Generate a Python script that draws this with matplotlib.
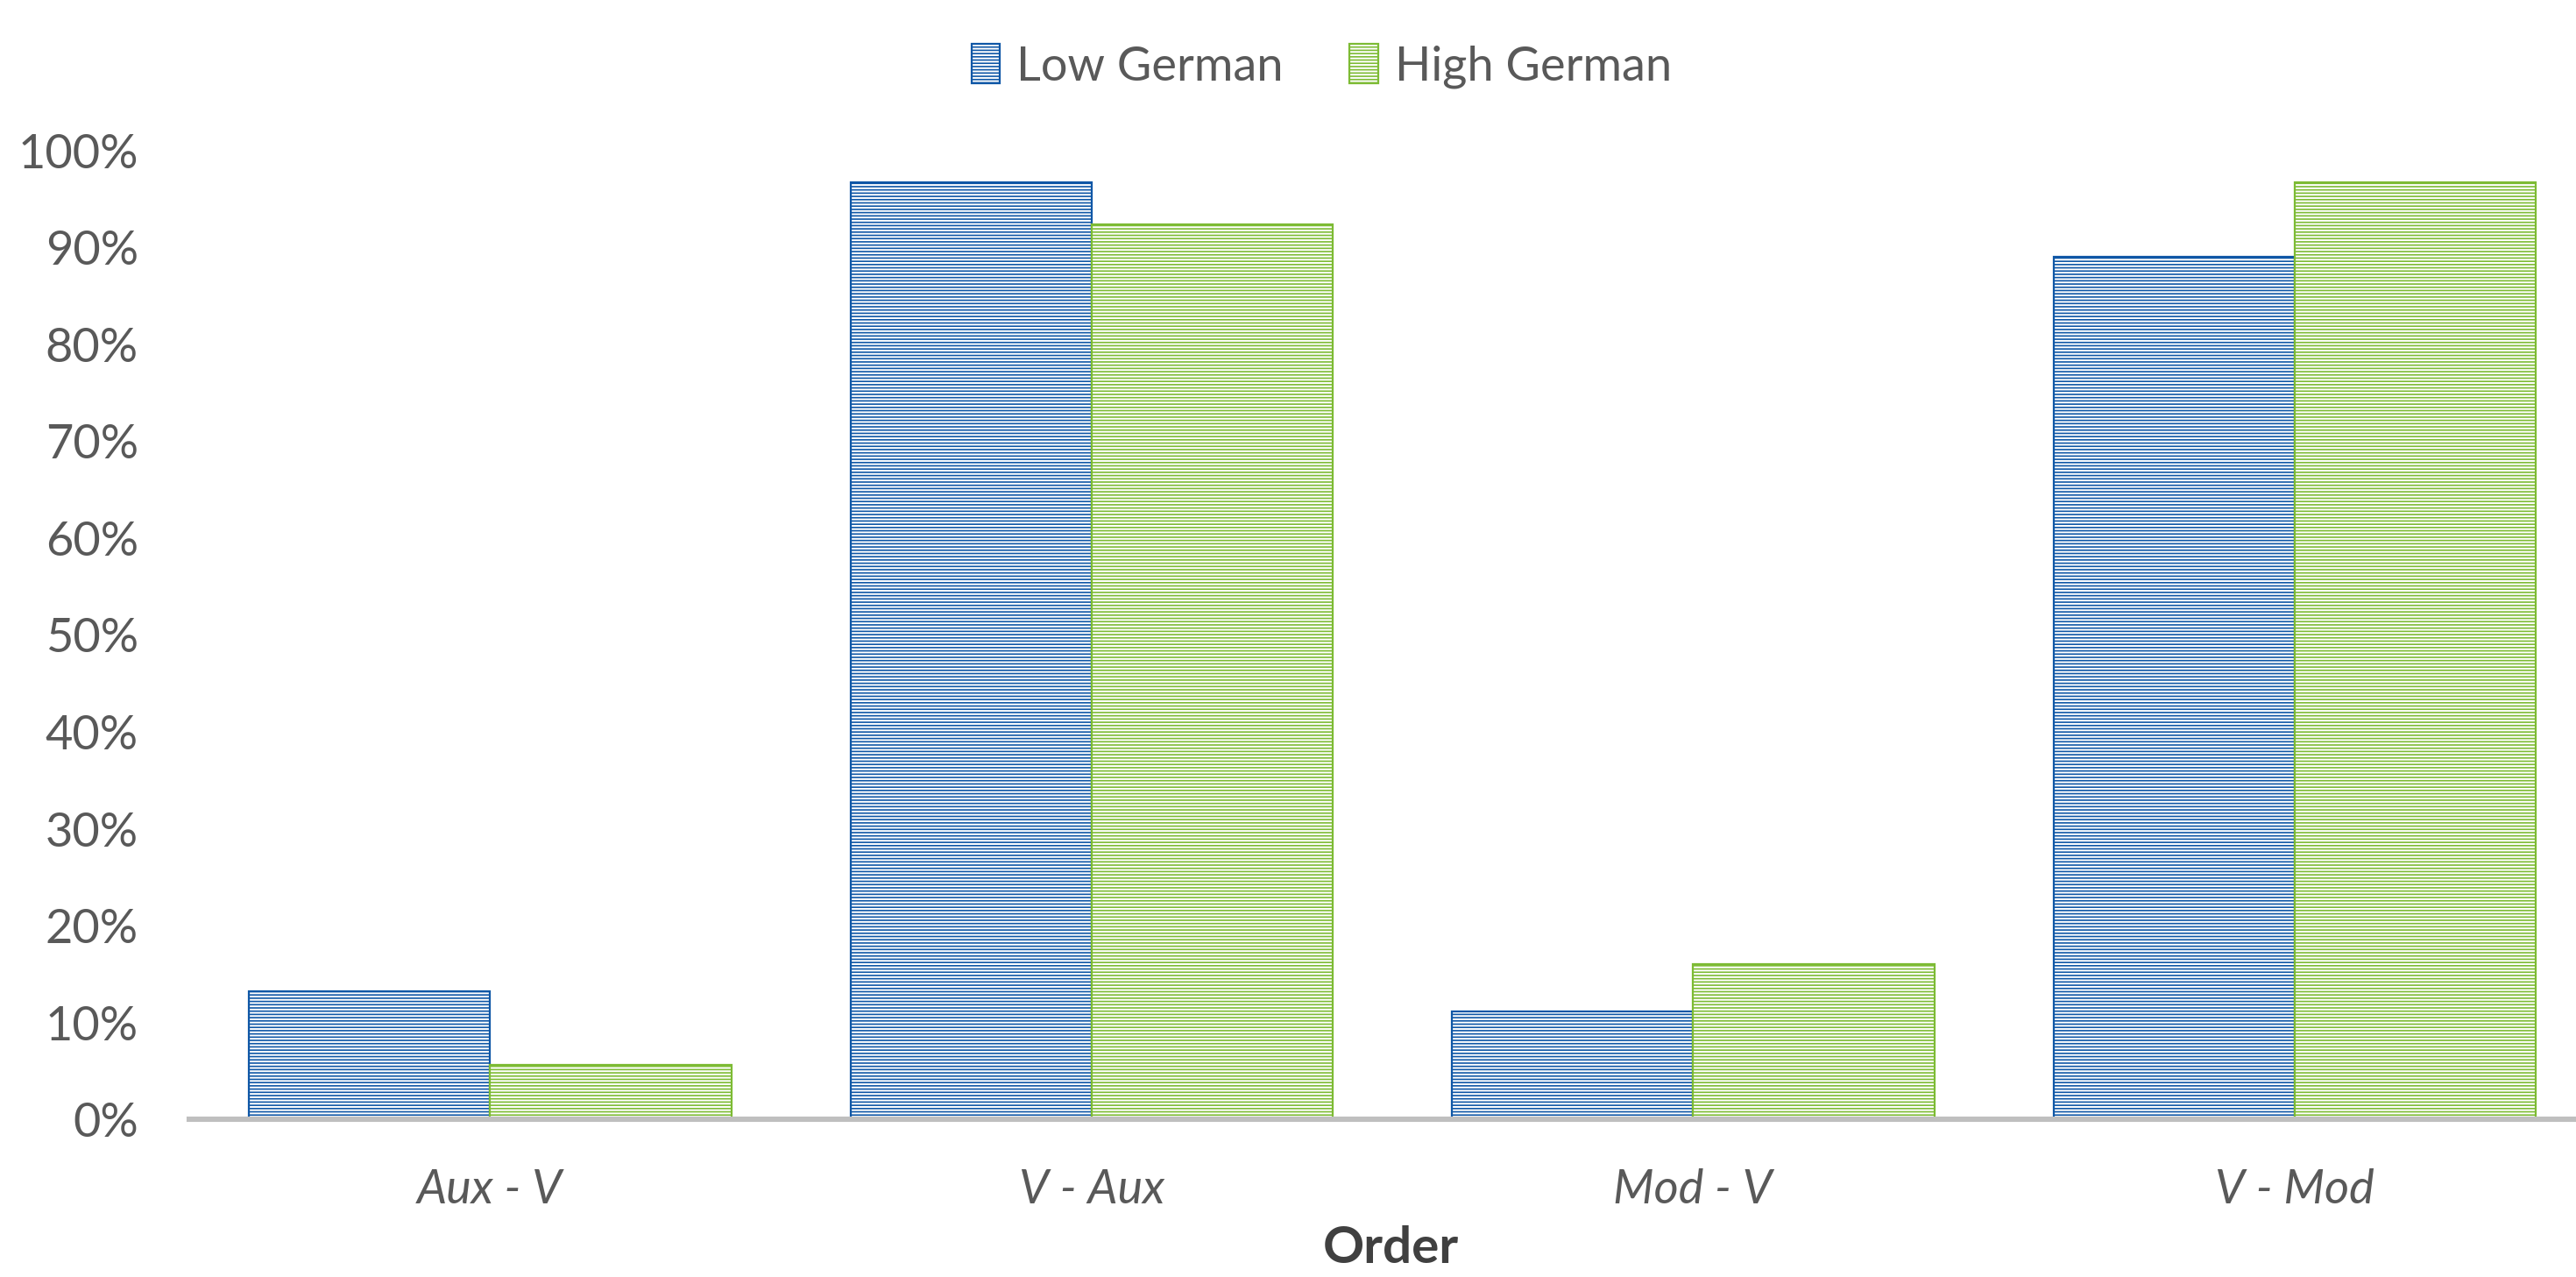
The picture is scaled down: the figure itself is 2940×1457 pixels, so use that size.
import numpy as np
import matplotlib
matplotlib.use("Agg")
import matplotlib.pyplot as plt
from matplotlib.patches import Patch
from matplotlib.ticker import PercentFormatter

# word order data: share per order type
orders = ['Aux - V', 'V - Aux', 'Mod - V', 'V - Mod']
low_german = [0.132, 0.967, 0.111, 0.890]
high_german = [0.056, 0.924, 0.160, 0.967]
series_names = ['Low German', 'High German']

blue = '#0F57A6'
green = '#7DBB34'
txt = '#595959'

plt.rcParams['font.family'] = ['Lato', 'DejaVu Sans']
plt.rcParams['hatch.linewidth'] = 0.6

fig = plt.figure(figsize=(14.7, 7.285), dpi=200)
ax = fig.add_axes([0.0735, 0.1235, 0.934, 0.7585])

x = np.arange(len(orders))
w = 0.401
hatch = '-' * 9
ax.bar(x - w/2, low_german, w, facecolor='white', edgecolor=blue, hatch=hatch, linewidth=0.8)
ax.bar(x + w/2, high_german, w, facecolor='white', edgecolor=green, hatch=hatch, linewidth=0.8)

ax.set_xlim(-0.5, len(orders) - 0.5)
ax.set_ylim(0, 1.0)
ax.set_yticks(np.arange(0, 1.01, 0.1))
ax.yaxis.set_major_formatter(PercentFormatter(1.0, decimals=0))
ax.set_xticks(x)
ax.set_xticklabels(orders, style='italic')
ax.tick_params(axis='both', length=0, labelsize=19.5, colors=txt)
ax.tick_params(axis='y', pad=21)
ax.tick_params(axis='x', pad=20)

for s in ['top', 'right', 'left']:
    ax.spines[s].set_visible(False)
ax.spines['bottom'].set_color('#BFBFBF')
ax.spines['bottom'].set_linewidth(2.2)

fig.text(0.54, 0.004, 'Order', ha='center', va='bottom',
         fontsize=21, fontweight='bold', color='#404040')

handles = [Patch(facecolor='white', edgecolor=blue, hatch=hatch, linewidth=0.8),
           Patch(facecolor='white', edgecolor=green, hatch=hatch, linewidth=0.8)]
fig.legend(handles, series_names, loc='center', bbox_to_anchor=(0.513, 0.948), ncol=2,
           frameon=False, fontsize=19.5, labelcolor=txt, handlelength=0.6, handleheight=0.9,
           handletextpad=0.35, columnspacing=1.4)

fig.savefig('out.png', dpi=200, facecolor='white')
